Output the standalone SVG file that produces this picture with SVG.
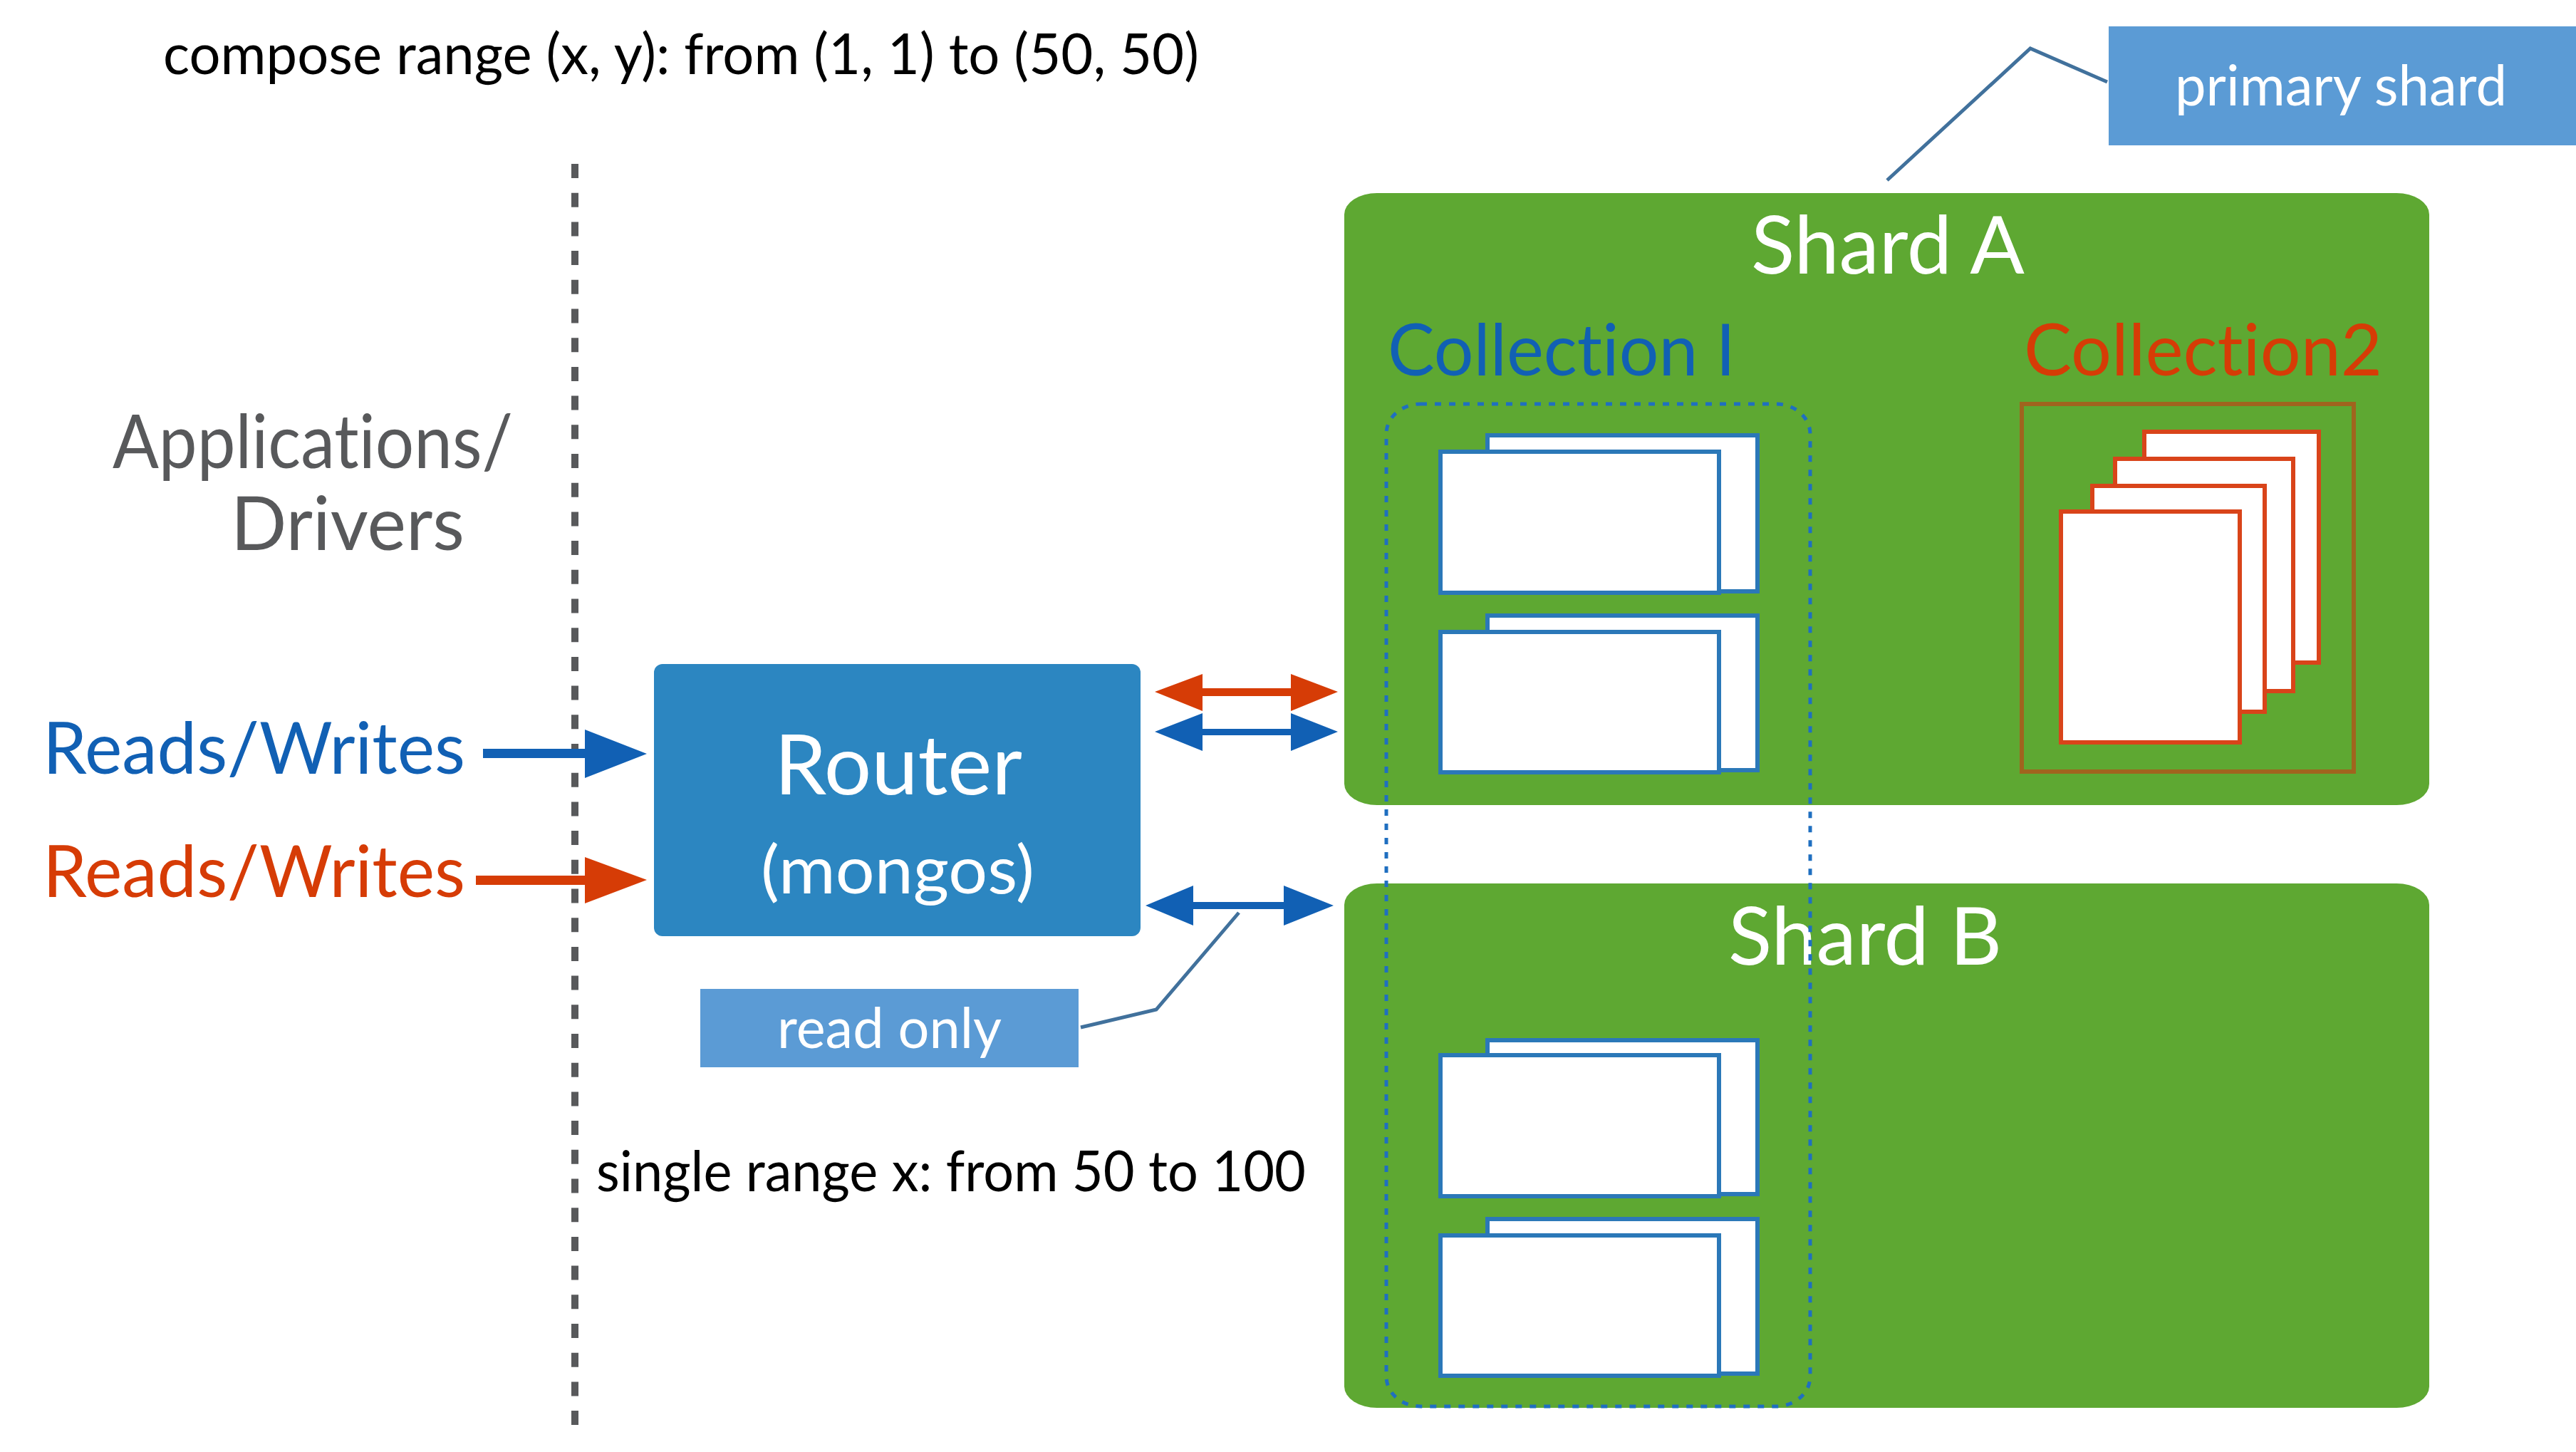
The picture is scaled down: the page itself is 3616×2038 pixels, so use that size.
<svg xmlns="http://www.w3.org/2000/svg" width="3616" height="2038" viewBox="0 0 3616 2038">
<style>
text{font-family:Lato,"Open Sans",sans-serif;font-variant-ligatures:none}
.shard{fill:#5EA832}
.w{fill:#fff}
.doc{fill:#fff;stroke:#2B78B8;stroke-width:6}
.odoc{fill:#fff;stroke:#D9441A;stroke-width:6}
.note{fill:#5B9BD5}
.lead{fill:none;stroke:#41719C;stroke-width:5}
.blue{fill:#1160B4}
.org{fill:#D63C06}
.t{fill:#000;font-size:79px}
.g{fill:#58595B;font-size:104px}
</style>
<rect width="3616" height="2038" fill="#fff"/>
<g id="top-label"><text class="t" x="229" y="104" textLength="1454" lengthAdjust="spacingAndGlyphs">compose range (x, y): from (1, 1) to (50, 50)</text></g>
<g id="single-label"><text class="t" x="837" y="1672" textLength="996" lengthAdjust="spacingAndGlyphs">single range x: from 50 to 100</text></g>
<g id="apps"><text class="g" x="158" y="657" textLength="562" lengthAdjust="spacingAndGlyphs">Applications/</text><text class="g" x="324" y="772" textLength="328" lengthAdjust="spacingAndGlyphs">Drivers</text></g>
<g id="divider"><line x1="807" y1="230" x2="807" y2="2004" stroke="#58595B" stroke-width="10" stroke-dasharray="20 20.7"/></g>
<g id="shard-a">
<rect class="shard" x="1887" y="271" width="1523" height="859" rx="46" ry="30"/>
<text class="w" x="2458" y="384" font-size="112" textLength="384" lengthAdjust="spacingAndGlyphs">Shard A</text>
<text class="blue" x="1948" y="527" font-size="100" textLength="488" lengthAdjust="spacingAndGlyphs">Collection I</text>
<text class="org" x="2841" y="527" font-size="100" textLength="503" lengthAdjust="spacingAndGlyphs">Collection2</text>
<rect x="2838" y="567" width="466" height="516" fill="none" stroke="#A0641E" stroke-width="6"/>
<rect class="doc" x="2088" y="611" width="379" height="219"/><rect class="doc" x="2022" y="634" width="391" height="198"/>
<rect class="doc" x="2088" y="864" width="379" height="217"/><rect class="doc" x="2022" y="887" width="391" height="197"/>
<rect class="odoc" x="3010" y="606" width="245" height="324"/><rect class="odoc" x="2969" y="644" width="250" height="326"/><rect class="odoc" x="2937" y="682" width="242" height="317"/><rect class="odoc" x="2893" y="718" width="251" height="324"/>
</g>
<g id="shard-b">
<rect class="shard" x="1887" y="1240" width="1523" height="736" rx="46" ry="30"/>
<text class="w" x="2426" y="1354" font-size="112" textLength="384" lengthAdjust="spacingAndGlyphs">Shard B</text>
<rect class="doc" x="2088" y="1460" width="379" height="216"/><rect class="doc" x="2022" y="1481" width="391" height="198"/>
<rect class="doc" x="2088" y="1711" width="379" height="217"/><rect class="doc" x="2022" y="1734" width="391" height="197"/>
</g>
<g id="collection-range"><rect x="1946" y="567" width="595" height="1407" rx="48" ry="42" fill="none" stroke="#1F6FC0" stroke-width="5" stroke-dasharray="9 11"/></g>
<g id="router">
<rect x="918" y="932" width="683" height="382" rx="12" fill="#2C86C1"/>
<text class="w" x="1087" y="1115" font-size="116" textLength="348" lengthAdjust="spacingAndGlyphs">Router</text>
<text class="w" x="1068" y="1254" font-size="94" textLength="384" lengthAdjust="spacingAndGlyphs">(mongos)</text>
</g>
<g id="rw-blue"><text class="blue" x="60" y="1086" font-size="100" textLength="593" lengthAdjust="spacingAndGlyphs">Reads/Writes</text></g>
<g id="rw-orange"><text class="org" x="60" y="1259" font-size="100" textLength="593" lengthAdjust="spacingAndGlyphs">Reads/Writes</text></g>
<g id="primary-note"><rect class="note" x="2960" y="37" width="656" height="167"/><text class="w" x="3053" y="148" font-size="79" textLength="466" lengthAdjust="spacingAndGlyphs">primary shard</text></g>
<g id="readonly-note"><rect class="note" x="983" y="1388" width="531" height="110"/><text class="w" x="1091" y="1471" font-size="79" textLength="315" lengthAdjust="spacingAndGlyphs">read only</text></g>
<g id="connectors">
<polygon class="blue" points="678,1051 821,1051 821,1024 908,1058 821,1092 821,1064 678,1064"/>
<polygon class="org" points="668,1229 821,1229 821,1203 908,1235 821,1268 821,1242 668,1242"/>
<polygon class="org" points="1621,971 1688,946 1688,966 1812,966 1812,946 1878,971 1812,998 1812,977 1688,977 1688,998"/>
<polygon class="blue" points="1621,1027 1688,1001 1688,1023 1812,1023 1812,1001 1878,1027 1812,1054 1812,1032 1688,1032 1688,1054"/>
<polygon class="blue" points="1608,1271 1675,1243 1675,1266 1802,1266 1802,1243 1872,1271 1802,1299 1802,1276 1675,1276 1675,1299"/>
<polyline class="lead" points="2649,253 2850,68 2958,115"/>
<polyline class="lead" points="1739,1281 1623,1417 1517,1442"/>
</g>
</svg>
